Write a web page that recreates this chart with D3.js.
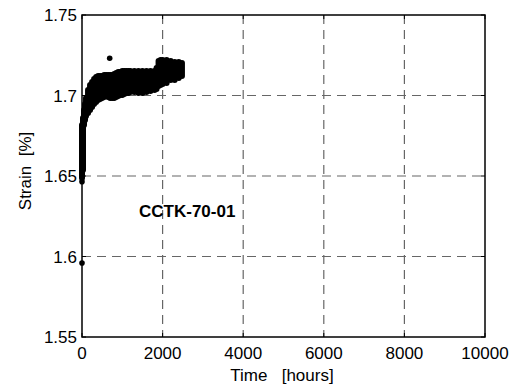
<!DOCTYPE html>
<html>
<head>
<meta charset="utf-8">
<script src="https://cdn.jsdelivr.net/npm/d3@7"></script>
<style>
  html, body { margin: 0; padding: 0; background: #fff; }
  svg { display: block; font-family: "Liberation Sans", Arial, sans-serif; }
  text { white-space: pre; }
</style>
</head>
<body>
<svg id="chart" width="512" height="387"></svg>
<script>
// ---- data ----
const xTicks = [0, 2000, 4000, 6000, 8000, 10000];
const yTicks = [1.55, 1.6, 1.65, 1.7, 1.75];
const yTickLabels = ["1.55", "1.6", "1.65", "1.7", "1.75"];

// dense scatter band: time [h] with lower / upper strain of the scatter cloud
const bandTime = [0, 25, 50, 75, 100, 150, 200, 250, 300, 350, 400, 450, 500, 550, 600, 650, 700, 750, 800, 850, 900, 950, 1000, 1050, 1100, 1150, 1200, 1300, 1400, 1500, 1600, 1700, 1800, 1850, 1900, 1950, 2000, 2100, 2200, 2300, 2400, 2480];
const bandLow  = [1.6488, 1.6537, 1.6817, 1.6848, 1.6873, 1.6891, 1.6910, 1.6929, 1.6947, 1.6960, 1.6972, 1.6978, 1.6984, 1.6991, 1.6997, 1.6991, 1.6984, 1.6984, 1.6984, 1.6991, 1.6997, 1.7003, 1.7003, 1.7009, 1.7016, 1.7016, 1.7022, 1.7022, 1.7016, 1.7016, 1.7022, 1.7028, 1.7034, 1.7040, 1.7059, 1.7065, 1.7071, 1.7078, 1.7096, 1.7096, 1.7109, 1.7121];
const bandHigh = [1.6817, 1.6860, 1.6910, 1.6947, 1.6984, 1.7034, 1.7065, 1.7084, 1.7102, 1.7115, 1.7121, 1.7121, 1.7121, 1.7127, 1.7127, 1.7127, 1.7127, 1.7127, 1.7134, 1.7140, 1.7146, 1.7146, 1.7152, 1.7152, 1.7152, 1.7152, 1.7152, 1.7152, 1.7152, 1.7152, 1.7152, 1.7152, 1.7152, 1.7171, 1.7214, 1.7220, 1.7220, 1.7220, 1.7214, 1.7208, 1.7208, 1.7202];

// isolated points
const pointTime   = [0, 0, 687];
const pointStrain = [1.596, 1.6465, 1.7231];

const specimen = "CCTK-70-01";

// ---- layout ----
const svg = d3.select("#chart");
const L = 82, R = 485, T = 15, B = 337;
const x = d3.scaleLinear().domain([0, 10000]).range([L, R]);
const y = d3.scaleLinear().domain([1.55, 1.75]).range([B, T]);

// grid
const grid = svg.append("g").attr("stroke", "#666").attr("stroke-width", 1.2).attr("stroke-dasharray", "9,6");
grid.selectAll(".gx").data(xTicks.slice(1, -1)).enter().append("line")
  .attr("x1", d => x(d)).attr("x2", d => x(d)).attr("y1", T).attr("y2", B);
grid.selectAll(".gy").data(yTicks.slice(1, -1)).enter().append("line")
  .attr("x1", L).attr("x2", R).attr("y1", d => y(d)).attr("y2", d => y(d));

// inward ticks on all four sides
const ticks = svg.append("g").attr("stroke", "#000").attr("stroke-width", 1);
xTicks.forEach(d => {
  ticks.append("line").attr("x1", x(d)).attr("x2", x(d)).attr("y1", B).attr("y2", B - 4);
  ticks.append("line").attr("x1", x(d)).attr("x2", x(d)).attr("y1", T).attr("y2", T + 4);
});
yTicks.forEach(d => {
  ticks.append("line").attr("x1", L).attr("x2", L + 4).attr("y1", y(d)).attr("y2", y(d));
  ticks.append("line").attr("x1", R).attr("x2", R - 4).attr("y1", y(d)).attr("y2", y(d));
});

// frame
svg.append("rect").attr("x", L).attr("y", T).attr("width", R - L).attr("height", B - T)
  .attr("fill", "none").attr("stroke", "#000").attr("stroke-width", 1.5);

// data band (scatter cloud)
svg.append("g").selectAll("line").data(bandTime).enter().append("line")
  .attr("x1", d => x(d)).attr("x2", d => x(d))
  .attr("y1", (d, i) => y(bandLow[i])).attr("y2", (d, i) => y(bandHigh[i]))
  .attr("stroke", "#000").attr("stroke-width", 6).attr("stroke-linecap", "round");

// isolated points
svg.append("g").selectAll("circle").data(pointTime).enter().append("circle")
  .attr("cx", d => x(d)).attr("cy", (d, i) => y(pointStrain[i])).attr("r", 2.8).attr("fill", "#000");

// tick labels
svg.append("g").selectAll("text").data(xTicks).enter().append("text")
  .attr("x", d => x(d)).attr("y", 359).attr("text-anchor", "middle")
  .attr("font-size", 17).attr("fill", "#000").text(d => d);
svg.append("g").selectAll("text").data(yTicks).enter().append("text")
  .attr("x", 77).attr("y", d => y(d)).attr("dy", "0.36em").attr("text-anchor", "end")
  .attr("font-size", 17).attr("fill", "#000").text((d, i) => yTickLabels[i]);

// axis titles
svg.append("text").attr("x", 282).attr("y", 381).attr("text-anchor", "middle")
  .attr("font-size", 17).attr("fill", "#000").text("Time   [hours]");
svg.append("text").attr("transform", "translate(31,171) rotate(-90)").attr("text-anchor", "middle")
  .attr("font-size", 17).attr("fill", "#000").text("Strain  [%]");

// specimen label
svg.append("text").attr("x", 139).attr("y", 217).attr("font-size", 17).attr("font-weight", "bold")
  .attr("fill", "#000").text(specimen);
</script>
</body>
</html>
